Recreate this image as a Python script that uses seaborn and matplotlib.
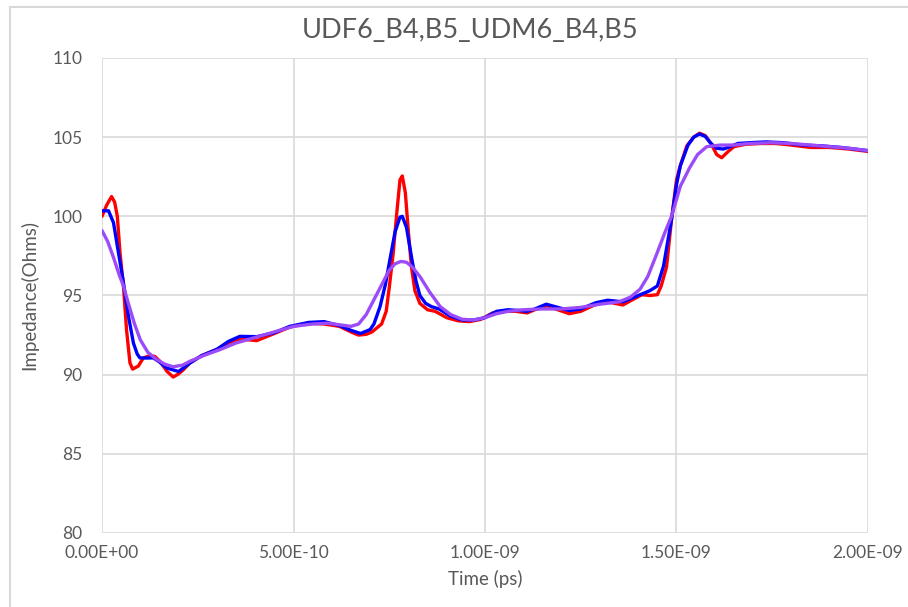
import matplotlib
matplotlib.use("Agg")
import matplotlib.pyplot as plt
import seaborn as sns
import pandas as pd
from matplotlib.lines import Line2D

# ---- data (time in units of 1e-10 s, impedance in Ohms) ----
red_t = [0.0, 0.12, 0.25, 0.33, 0.4, 0.47, 0.56, 0.64, 0.73, 0.8, 0.95, 1.08, 1.25, 1.38, 1.51, 1.7, 1.86,
         2.0, 2.12, 2.3, 2.6, 3.0, 3.3, 3.6, 4.04, 4.5, 4.9, 5.35, 5.8, 6.2, 6.5, 6.7, 6.9, 7.05, 7.2, 7.3,
         7.42, 7.5, 7.6, 7.7, 7.78, 7.84, 7.92, 8.0, 8.08, 8.17, 8.3, 8.5, 8.7, 9.0, 9.3, 9.6, 9.9, 10.2,
         10.5, 10.8, 11.1, 11.3, 11.6, 11.9, 12.2, 12.5, 12.9, 13.2, 13.6, 13.9, 14.1, 14.3, 14.5, 14.6,
         14.74, 14.87, 15.0, 15.1, 15.27, 15.45, 15.6, 15.75, 15.9, 16.05, 16.18, 16.35, 16.5, 16.8, 17.2,
         17.6, 18.0, 18.5, 19.0, 19.5, 20.0]
red_v = [100.0, 100.7, 101.25, 100.9, 100.0, 97.7, 95.6, 92.85, 90.74, 90.35, 90.55, 91.06, 91.2, 91.15,
         90.85, 90.2, 89.85, 90.05, 90.3, 90.75, 91.2, 91.6, 92.0, 92.25, 92.15, 92.6, 93.0, 93.25, 93.2,
         93.05, 92.7, 92.5, 92.55, 92.7, 93.0, 93.2, 94.0, 95.5, 97.6, 100.3, 102.3, 102.55, 101.5, 99.0,
         96.8, 95.3, 94.5, 94.1, 94.0, 93.6, 93.4, 93.35, 93.5, 93.9, 94.0, 94.0, 93.9, 94.1, 94.35, 94.1,
         93.85, 94.0, 94.45, 94.6, 94.4, 94.8, 95.05, 95.0, 95.05, 95.6, 96.8, 99.8, 102.3, 103.2, 104.45,
         105.0, 105.25, 105.1, 104.6, 103.9, 103.7, 104.1, 104.4, 104.55, 104.6, 104.6, 104.5, 104.35,
         104.35, 104.25, 104.1]

blue_t = [0.0, 0.17, 0.3, 0.43, 0.56, 0.69, 0.82, 0.92, 0.99, 1.15, 1.34, 1.5, 1.69, 2.0, 2.3, 2.6, 3.0,
          3.3, 3.6, 4.04, 4.5, 4.9, 5.4, 5.8, 6.2, 6.5, 6.75, 7.0, 7.1, 7.26, 7.4, 7.52, 7.65, 7.78, 7.84,
          7.95, 8.09, 8.2, 8.3, 8.45, 8.6, 8.8, 9.1, 9.4, 9.7, 10.0, 10.3, 10.6, 10.9, 11.1, 11.3, 11.6,
          11.9, 12.2, 12.5, 12.9, 13.2, 13.6, 14.0, 14.3, 14.5, 14.66, 14.87, 15.0, 15.1, 15.3, 15.45,
          15.6, 15.75, 15.9, 16.05, 16.22, 16.4, 16.6, 16.9, 17.35, 17.8, 18.3, 18.8, 19.3, 20.0]
blue_v = [100.35, 100.35, 99.6, 97.7, 95.8, 93.7, 92.0, 91.3, 91.06, 91.05, 91.06, 90.8, 90.42, 90.2,
          90.74, 91.2, 91.6, 92.1, 92.42, 92.4, 92.65, 93.05, 93.3, 93.35, 93.1, 92.8, 92.6, 92.85, 93.2,
          94.3, 95.7, 97.3, 99.0, 99.95, 100.0, 99.3, 97.3, 95.9, 95.0, 94.5, 94.3, 94.15, 93.7, 93.45,
          93.45, 93.6, 94.0, 94.1, 94.05, 94.0, 94.15, 94.45, 94.25, 94.05, 94.15, 94.55, 94.7, 94.6,
          95.0, 95.3, 95.6, 96.85, 99.8, 102.0, 103.2, 104.5, 105.0, 105.2, 105.05, 104.6, 104.3, 104.25,
          104.4, 104.6, 104.65, 104.7, 104.65, 104.5, 104.45, 104.35, 104.15]

purple_t = [0.0, 0.15, 0.3, 0.45, 0.56, 0.7, 0.85, 1.0, 1.2, 1.43, 1.65, 1.86, 2.1, 2.3, 2.7, 3.1, 3.5,
            4.0, 4.5, 5.0, 5.5, 5.9, 6.2, 6.5, 6.7, 6.9, 7.05, 7.2, 7.35, 7.5, 7.65, 7.8, 7.95, 8.1, 8.3,
            8.56, 8.83, 9.1, 9.4, 9.7, 10.0, 10.3, 10.6, 11.0, 11.5, 12.0, 12.5, 13.0, 13.5, 13.8, 14.05,
            14.25, 14.48, 14.7, 14.87, 15.1, 15.35, 15.55, 15.79, 16.14, 16.5, 16.9, 17.5, 18.0, 18.5,
            19.0, 19.5, 20.0]
purple_v = [99.1, 98.4, 97.4, 96.3, 95.6, 94.4, 93.2, 92.2, 91.4, 90.95, 90.65, 90.5, 90.6, 90.85, 91.25,
            91.6, 92.0, 92.35, 92.7, 93.05, 93.2, 93.25, 93.15, 93.05, 93.2, 93.8, 94.5, 95.2, 95.9, 96.6,
            97.0, 97.15, 97.1, 96.8, 96.2, 95.2, 94.3, 93.8, 93.5, 93.45, 93.6, 93.85, 94.0, 94.1, 94.15,
            94.15, 94.25, 94.45, 94.6, 94.9, 95.4, 96.2, 97.6, 99.0, 100.0, 101.9, 103.1, 103.9, 104.4,
            104.5, 104.5, 104.6, 104.65, 104.6, 104.5, 104.4, 104.3, 104.15]

series_names = ["red", "blue", "purple"]
series_colors = ["#FF0000", "#0000FF", "#9B4BFA"]

x_ticks = [0.0, 5e-10, 1e-9, 1.5e-9, 2e-9]
x_tick_labels = ["0.00E+00", "5.00E-10", "1.00E-09", "1.50E-09", "2.00E-09"]
y_ticks = [80, 85, 90, 95, 100, 105, 110]

title = "UDF6_B4,B5_UDM6_B4,B5"
x_label = "Time (ps)"
y_label = "Impedance(Ohms)"

# ---- build long-form table ----
frames = []
for name, t, v in zip(series_names, [red_t, blue_t, purple_t], [red_v, blue_v, purple_v]):
    frames.append(pd.DataFrame({"time": [ti * 1e-10 for ti in t], "imp": v, "series": name}))
df = pd.concat(frames, ignore_index=True)

sns.set_theme(style="white")
plt.rcParams["font.family"] = ["Lato", "DejaVu Sans"]

fig = plt.figure(figsize=(9.08, 6.07), dpi=100)
ax = fig.add_axes([102 / 908, 1 - 533 / 607, (868 - 102) / 908, (533 - 58) / 607])

sns.lineplot(data=df, x="time", y="imp", hue="series", palette=dict(zip(series_names, series_colors)),
             estimator=None, sort=False, linewidth=2.4, legend=False, ax=ax, zorder=3,
             solid_joinstyle="round", solid_capstyle="round")

ax.set_xlim(0, 2e-9)
ax.set_ylim(80, 110)
ax.set_xticks(x_ticks)
ax.set_xticklabels(x_tick_labels)
ax.set_yticks(y_ticks)
ax.grid(True, color="#D9D9D9", linewidth=1.2, zorder=0)
for s in ax.spines.values():
    s.set_visible(False)
ax.tick_params(axis="both", length=0, labelsize=12.5, labelcolor="#595959")
ax.tick_params(axis="y", pad=14)
ax.tick_params(axis="x", pad=9)
ax.set_xlabel(x_label, fontsize=13.5, color="#595959", labelpad=6)
ax.set_ylabel(y_label, fontsize=13.5, color="#595959", labelpad=10)
fig.text(470 / 908, 1 - 30 / 607, title, ha="center", va="center", fontsize=19.5, color="#595959")

# chart frame (left and top edges visible)
fig.add_artist(Line2D([10 / 908, 10 / 908], [0, 1 - 7 / 607], transform=fig.transFigure,
                      color="#D9D9D9", linewidth=1.5))
fig.add_artist(Line2D([10 / 908, 1], [1 - 7 / 607, 1 - 7 / 607], transform=fig.transFigure,
                      color="#D9D9D9", linewidth=1.5))

fig.savefig("out.png", dpi=100, facecolor="white")
